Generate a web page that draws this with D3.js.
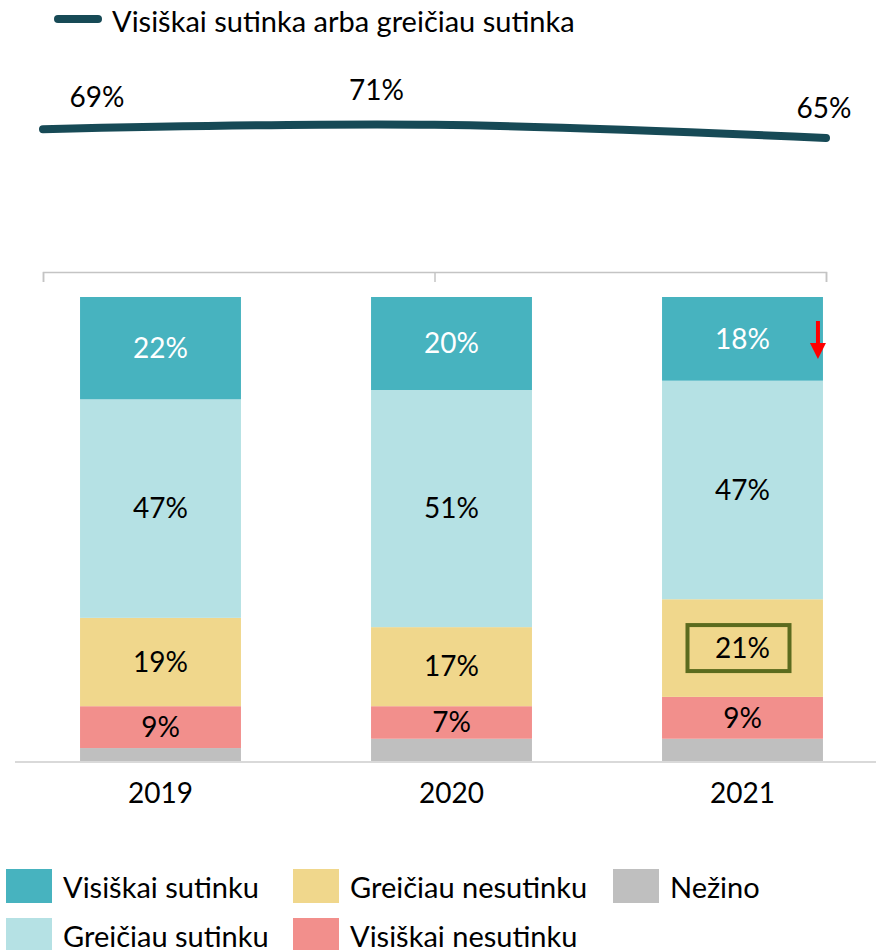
<!DOCTYPE html>
<html>
<head>
<meta charset="utf-8">
<script src="https://cdn.jsdelivr.net/npm/d3@7"></script>
<style>
  body { margin: 0; background: #fff; }
  text { font-family: Lato, "Open Sans", sans-serif; }
</style>
</head>
<body>
<svg id="chart"></svg>
<script>
// Data
const years = ["2019", "2020", "2021"];
const categories = ["Visiškai sutinku", "Greičiau sutinku", "Greičiau nesutinku", "Visiškai nesutinku", "Nežino"];
const visiskaiSutinku = [22, 20, 18];
const greiciauSutinku = [47, 51, 47];
const greiciauNesutinku = [19, 17, 21];
const visiskaiNesutinku = [9, 7, 9];
const nezino = [3, 5, 5];
const agreeTotal = [69, 71, 65];
const lineName = "Visiškai sutinka arba greičiau sutinka";

const colors = ["#47b3bf", "#b5e1e4", "#f0d78c", "#f28f8c", "#bfbfbf"];
const labelColors = ["#fff", "#000", "#000", "#000", null];

// Sizes
const width = 876;
const height = 950;
const barTop = 297;
const barBottom = 762;
const numSize = 28;   // numbers
const textSize = 29;  // legend words

// build rows for the stack
const seriesValues = [visiskaiSutinku, greiciauSutinku, greiciauNesutinku, visiskaiNesutinku, nezino];
const rows = years.map((yr, i) => {
    const obj = { YEAR: yr };
    categories.forEach((c, k) => { obj[c] = seriesValues[k][i]; });
    return obj;
});

// bottom of the stack is "Nežino"
const stackKeys = categories.slice().reverse();
const series = d3.stack().keys(stackKeys)(rows);

const x = d3.scaleBand()
    .domain(years)
    .range([15, 888])
    .paddingInner(0.447)
    .paddingOuter(0.447 / 2);

const y = d3.scaleLinear()
    .domain([0, 100])
    .range([barBottom, barTop]);

const color = d3.scaleOrdinal().domain(categories).range(colors);
const labelColor = d3.scaleOrdinal().domain(categories).range(labelColors);

// line chart scales (secondary)
const xLine = d3.scalePoint().domain(years).range([43, 826]);
const yLine = d3.scaleLinear().domain([0, 100]).range([281, 61]);

const svg = d3.select("#chart")
    .attr("width", width)
    .attr("height", height)
    .attr("viewBox", [0, 0, width, height]);

// --- top legend for the line
svg.append("line")
    .attr("x1", 58).attr("x2", 98)
    .attr("y1", 19).attr("y2", 19)
    .attr("stroke", "#174a56")
    .attr("stroke-width", 8)
    .attr("stroke-linecap", "round");

svg.append("text")
    .attr("x", 112)
    .attr("y", 32)
    .attr("font-size", textSize)
    .attr("fill", "#000")
    .text(lineName);

// --- bracket axis above the bars
svg.append("g")
    .attr("transform", "translate(0,272)")
    .call(d3.axisTop(xLine).tickSize(-10).tickFormat(""))
    .call(g => g.selectAll("path, line").attr("stroke", "#c4c4c4").attr("stroke-width", 1.5));

// --- the line
const line = d3.line()
    .x((d, i) => xLine(years[i]))
    .y(d => yLine(d))
    .curve(d3.curveCatmullRom.alpha(0.5));

svg.append("path")
    .datum(agreeTotal)
    .attr("fill", "none")
    .attr("stroke", "#174a56")
    .attr("stroke-width", 8)
    .attr("stroke-linecap", "round")
    .attr("d", line);

// label offsets (Excel had them dragged around)
const lineLabelDx = [54, -58, -2];
const lineLabelDy = [-22, -25, -20];

svg.append("g")
    .selectAll("text")
    .data(agreeTotal)
    .join("text")
    .attr("x", (d, i) => xLine(years[i]) + lineLabelDx[i])
    .attr("y", (d, i) => yLine(d) + lineLabelDy[i])
    .attr("text-anchor", "middle")
    .attr("font-size", numSize)
    .text(d => d + "%");

// --- stacked bars
const groups = svg.append("g")
    .selectAll("g")
    .data(series)
    .join("g")
    .attr("fill", D => color(D.key));

groups.selectAll("rect")
    .data(D => D.map(d => (d.key = D.key, d)))
    .join("rect")
    .attr("x", d => x(d.data.YEAR))
    .attr("y", d => y(d[1]))
    .attr("height", d => y(d[0]) - y(d[1]))
    .attr("width", x.bandwidth());

groups.selectAll("text")
    .data(D => D.map(d => (d.key = D.key, d)).filter(d => labelColor(d.key)))
    .join("text")
    .attr("x", d => x(d.data.YEAR) + x.bandwidth() / 2)
    .attr("y", d => (y(d[0]) + y(d[1])) / 2)
    .attr("dy", "0.35em")
    .attr("text-anchor", "middle")
    .attr("font-size", numSize)
    .attr("fill", d => labelColor(d.key))
    .text(d => d.data[d.key] + "%");

// --- x axis
svg.append("line")
    .attr("x1", 15).attr("x2", width)
    .attr("y1", barBottom).attr("y2", barBottom)
    .attr("stroke", "#d9d9d9")
    .attr("stroke-width", 2);

svg.append("g")
    .selectAll("text")
    .data(years)
    .join("text")
    .attr("x", d => x(d) + x.bandwidth() / 2)
    .attr("y", 803)
    .attr("text-anchor", "middle")
    .attr("font-size", numSize)
    .text(d => d);

// --- highlight box around 21% (2021, Greičiau nesutinku)
const hl = series.find(s => s.key === "Greičiau nesutinku")[2];
const hlCy = (y(hl[0]) + y(hl[1])) / 2;
svg.append("rect")
    .attr("x", x("2021") + x.bandwidth() / 2 - 55)
    .attr("y", hlCy - 23)
    .attr("width", 102)
    .attr("height", 46)
    .attr("fill", "none")
    .attr("stroke", "#5b6b1e")
    .attr("stroke-width", 4);

// --- red arrow in 2021 top segment
const top21 = series.find(s => s.key === "Visiškai sutinku")[2];
const ax = x("2021") + x.bandwidth() - 5;
const ay = y(top21[1]);
svg.append("line")
    .attr("x1", ax).attr("x2", ax)
    .attr("y1", ay + 24).attr("y2", ay + 48)
    .attr("stroke", "#ff0000")
    .attr("stroke-width", 4);
svg.append("path")
    .attr("d", `M${ax - 8},${ay + 46}L${ax + 8},${ay + 46}L${ax},${ay + 62}Z`)
    .attr("fill", "#ff0000");

// --- bottom legend, 3 columns x 2 rows
const legendCols = [6, 293, 613];
const legendRows = [869, 918];
const legendOrder = categories.map((c, i) => ({ key: c, col: Math.floor(i / 2), row: i % 2 }));

const legend = svg.append("g")
    .selectAll("g")
    .data(legendOrder)
    .join("g")
    .attr("transform", d => `translate(${legendCols[d.col]},${legendRows[d.row]})`);

legend.append("rect")
    .attr("width", 46)
    .attr("height", 34)
    .attr("fill", d => color(d.key));

legend.append("text")
    .attr("x", 57)
    .attr("y", 29)
    .attr("font-size", textSize)
    .text(d => d.key);
</script>
</body>
</html>
